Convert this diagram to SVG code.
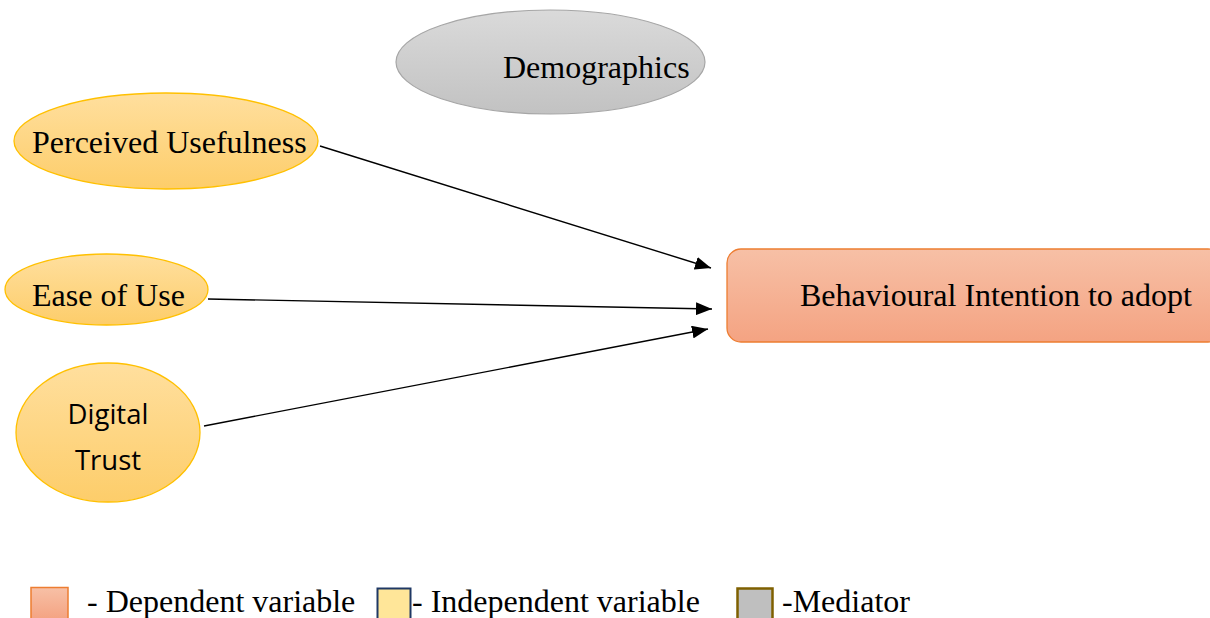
<svg xmlns="http://www.w3.org/2000/svg" width="1210" height="618" viewBox="0 0 1210 618">
  <defs>
    <linearGradient id="gYellow" x1="0" y1="0" x2="0" y2="1">
      <stop offset="0" stop-color="#FFDF9E"/>
      <stop offset="1" stop-color="#FDCD6A"/>
    </linearGradient>
    <linearGradient id="gGray" x1="0" y1="0" x2="0" y2="1">
      <stop offset="0" stop-color="#DADADA"/>
      <stop offset="1" stop-color="#C2C2C2"/>
    </linearGradient>
    <linearGradient id="gOrange" x1="0" y1="0" x2="0" y2="1">
      <stop offset="0" stop-color="#F7C0A6"/>
      <stop offset="1" stop-color="#F4A382"/>
    </linearGradient>
    <marker id="arrow" viewBox="0 0 16 13" refX="16" refY="6.5" markerWidth="16" markerHeight="13" markerUnits="userSpaceOnUse" orient="auto">
      <path d="M0,0 L16,6.5 L0,13 Z" fill="#000"/>
    </marker>
  </defs>
  <style>
    .serif { font-family: "Liberation Serif", "Times New Roman", serif; font-size: 32px; fill: #000; }
    .sans { font-family: "Open Sans", "Noto Sans", sans-serif; font-size: 27.5px; fill: #000; }
    .indep { fill: url(#gYellow); stroke: #FFC000; stroke-width: 1.3; }
    .conn { stroke: #000; stroke-width: 1.4; fill: none; marker-end: url(#arrow); }
  </style>
  <rect width="1210" height="618" fill="#fff"/>

  <g id="connectors">
    <line class="conn" x1="320" y1="146" x2="711" y2="268"/>
    <line class="conn" x1="208" y1="299" x2="712" y2="309"/>
    <line class="conn" x1="204" y1="426" x2="708" y2="329"/>
  </g>

  <g id="demographics">
    <ellipse cx="550.5" cy="62" rx="154.5" ry="52" fill="url(#gGray)" stroke="#A6A6A6" stroke-width="1.2"/>
    <text class="serif" x="503" y="78">Demographics</text>
  </g>

  <g id="perceived-usefulness">
    <ellipse class="indep" cx="166" cy="141" rx="152" ry="48"/>
    <text class="serif" x="32" y="153">Perceived Usefulness</text>
  </g>

  <g id="ease-of-use">
    <ellipse class="indep" cx="106.5" cy="289.5" rx="101.5" ry="35.5"/>
    <text class="serif" x="32" y="306">Ease of Use</text>
  </g>

  <g id="digital-trust">
    <ellipse class="indep" cx="108" cy="432.5" rx="92" ry="69.5"/>
    <text class="sans" x="108" y="424" text-anchor="middle">Digital</text>
    <text class="sans" x="108" y="470" text-anchor="middle">Trust</text>
  </g>

  <g id="behavioural-intention">
    <rect x="727" y="249" width="495" height="93" rx="14" ry="14" fill="url(#gOrange)" stroke="#ED7D31" stroke-width="1.3"/>
    <text class="serif" x="800" y="306">Behavioural Intention to adopt</text>
  </g>

  <g id="legend">
    <rect x="31" y="587.5" width="37" height="32" fill="url(#gOrange)" stroke="#ED7D31" stroke-width="1.5"/>
    <text class="serif" x="87" y="612">- Dependent variable</text>
    <rect x="377.5" y="588.5" width="33" height="31" fill="#FFE699" stroke="#1F3864" stroke-width="2"/>
    <text class="serif" x="412" y="612">- Independent variable</text>
    <rect x="737.5" y="588.5" width="35" height="31" fill="#BFBFBF" stroke="#7F6000" stroke-width="2.5"/>
    <text class="serif" x="782" y="612">-Mediator</text>
  </g>
</svg>
